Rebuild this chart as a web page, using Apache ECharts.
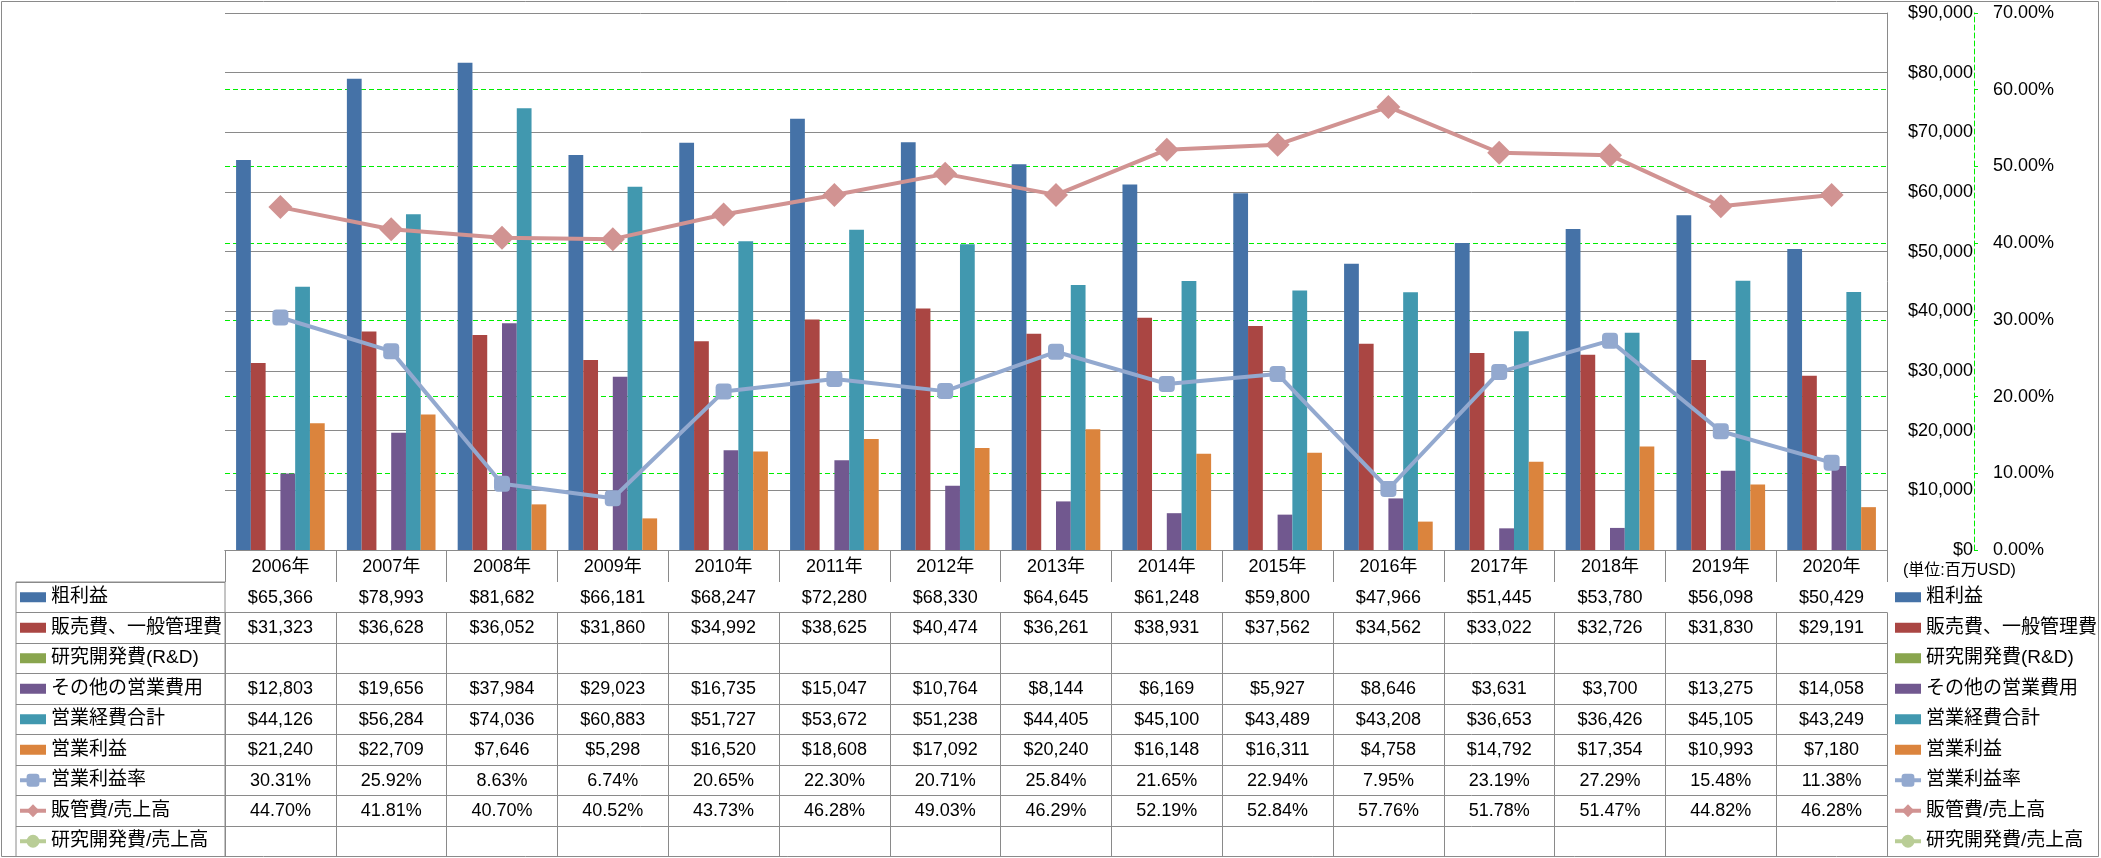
<!DOCTYPE html>
<html><head><meta charset="utf-8">
<script src="https://cdn.jsdelivr.net/npm/echarts@6/dist/echarts.min.js"></script>
<style>html,body{margin:0;padding:0;background:#fff}#c{width:2101px;height:858px}</style>
</head><body><div id="c"></div>
<script>
// ---- data ----
const years = ['2006年','2007年','2008年','2009年','2010年','2011年','2012年','2013年','2014年','2015年','2016年','2017年','2018年','2019年','2020年'];
const grossProfit = [65366,78993,81682,66181,68247,72280,68330,64645,61248,59800,47966,51445,53780,56098,50429];
const sgaExpense  = [31323,36628,36052,31860,34992,38625,40474,36261,38931,37562,34562,33022,32726,31830,29191];
const rndExpense  = [];
const otherOpex   = [12803,19656,37984,29023,16735,15047,10764,8144,6169,5927,8646,3631,3700,13275,14058];
const totalOpex   = [44126,56284,74036,60883,51727,53672,51238,44405,45100,43489,43208,36653,36426,45105,43249];
const opIncome    = [21240,22709,7646,5298,16520,18608,17092,20240,16148,16311,4758,14792,17354,10993,7180];
const opMargin    = [30.31,25.92,8.63,6.74,20.65,22.30,20.71,25.84,21.65,22.94,7.95,23.19,27.29,15.48,11.38];
const sgaRatio    = [44.70,41.81,40.70,40.52,43.73,46.28,49.03,46.29,52.19,52.84,57.76,51.78,51.47,44.82,46.28];
const rndRatio    = [];
const seriesNames = ['粗利益','販売費、一般管理費','研究開発費(R&D)','その他の営業費用','営業経費合計','営業利益','営業利益率','販管費/売上高','研究開発費/売上高'];
const usdAxis = {min:0, max:90000, interval:10000};
const pctAxis = {min:0, max:70, interval:10};
const unitLabel = '(単位:百万USD)';

// ---- styling ----
const GRAY = '#8a8a8a';
const FONT = "'Liberation Sans', 'Noto Sans CJK JP', sans-serif";
const HEAD_H = 32, ROW_H = 30.5;
const colors = ['#4572A7','#AA4643','#89A54E','#71588F','#4198AF','#DB843D','#93A9CF','#D19392','#B9CD96'];
const BAR_ICON = 'path://M0,0h26v10h-26z';

const fmtUsd = v => (v == null ? '' : '$' + v.toLocaleString('en-US'));
const fmtPct = v => (v == null ? '' : v.toFixed(2) + '%');
const rows = [
  [grossProfit, fmtUsd],[sgaExpense, fmtUsd],[rndExpense, fmtUsd],[otherOpex, fmtUsd],
  [totalOpex, fmtUsd],[opIncome, fmtUsd],[opMargin, fmtPct],[sgaRatio, fmtPct],[rndRatio, fmtPct]
];

const xAxes = [{
  type:'category', data: years, gridIndex:0, position:'bottom', offset:0,
  axisLine:{lineStyle:{color:GRAY}},
  axisTick:{show:true, length:HEAD_H, interval:0, lineStyle:{color:GRAY}},
  axisLabel:{interval:0, margin:8, fontSize:18, color:'#000', fontFamily:FONT}
}];
rows.forEach((r, k) => {
  xAxes.push({
    type:'category', data: years, gridIndex:0, position:'bottom', offset: HEAD_H + ROW_H * k,
    axisLine:{lineStyle:{color:GRAY}},
    axisTick:{show:true, length:ROW_H, interval:0, lineStyle:{color:GRAY}},
    axisLabel:{interval:0, margin:7, fontSize:18, color:'#000', fontFamily:FONT,
      formatter:(v, i) => r[1](r[0][i])}
  });
});
xAxes.push({gridIndex:1, type:'value', show:false});

const barNames = seriesNames.slice(0, 6);
const barData = [grossProfit, sgaExpense, rndExpense, otherOpex, totalOpex, opIncome];
const series = barNames.map((n, i) => ({
  name:n, type:'bar', xAxisIndex:0, yAxisIndex:0, data: barData[i],
  barGap:'0%', barCategoryGap:'20%', itemStyle:{color: colors[i]}
}));
const lineData = [opMargin, sgaRatio, rndRatio];
const lineSymbols = [['roundRect',16],['diamond',24],['circle',16]];
seriesNames.slice(6).forEach((n, j) => {
  series.push({
    name:n, type:'line', xAxisIndex:0, yAxisIndex:1, data: lineData[j],
    symbol: lineSymbols[j][0], symbolSize: lineSymbols[j][1],
    lineStyle:{width:4, color: colors[6 + j]}, itemStyle:{color: colors[6 + j]}, z:5
  });
});

const legendData = seriesNames.map((n, i) => (i < 6 ? {name:n, icon:BAR_ICON} : {name:n}));
const legendBase = {
  orient:'vertical', top:582, padding:0, itemGap:0, itemWidth:26, itemHeight:16,
  selectedMode:false, data: legendData, symbolKeepAspect:true,
  lineStyle:{width:4},
  textStyle:{fontSize:19, lineHeight:ROW_H, color:'#000', fontFamily:FONT}
};

const option = {
  animation:false,
  backgroundColor:'#fff',
  textStyle:{fontFamily:FONT},
  title:{text: unitLabel, left:1903, top:562, padding:0,
    textStyle:{fontSize:16, fontWeight:'normal', color:'#000', fontFamily:FONT, lineHeight:18}},
  legend:[Object.assign({left:18}, legendBase), Object.assign({left:1893}, legendBase)],
  grid:[
    {left:225, right:214, top:13, bottom:308},
    {left:16, top:582, width:209, height:274.5, show:true, borderColor:GRAY, borderWidth:1, backgroundColor:'transparent'}
  ],
  xAxis: xAxes,
  yAxis:[
    {type:'value', gridIndex:0, position:'right', offset:0, min:usdAxis.min, max:usdAxis.max, interval:usdAxis.interval,
     axisLine:{show:true, lineStyle:{color:GRAY}}, axisTick:{show:false},
     axisLabel:{align:'right', margin:86, fontSize:18, color:'#000', fontFamily:FONT,
       formatter: v => '$' + v.toLocaleString('en-US')},
     splitLine:{show:true, lineStyle:{color:GRAY, width:1}}},
    {type:'value', gridIndex:0, position:'right', offset:87, min:pctAxis.min, max:pctAxis.max, interval:pctAxis.interval,
     axisLine:{show:true, lineStyle:{color:'#00ee00', type:[5,3]}},
     axisTick:{show:true, length:4, lineStyle:{color:'#00ee00'}},
     axisLabel:{margin:19, fontSize:18, color:'#000', fontFamily:FONT, formatter: v => v.toFixed(2) + '%'},
     splitLine:{show:true, showMinLine:false, showMaxLine:false, lineStyle:{color:'#00ee00', type:[5,3], width:1}}},
    {type:'category', gridIndex:1, inverse:true, data: seriesNames,
     axisLine:{show:false}, axisTick:{show:false}, axisLabel:{show:false, interval:0},
     splitLine:{show:true, interval:0, lineStyle:{color:GRAY}}}
  ],
  graphic:[{type:'rect', silent:true, z:100,
    shape:{x:1.5, y:1.5, width:2097, height:855},
    style:{fill:'none', stroke:'#8a8a8a', lineWidth:1}}],
  series: series
};
const chart = echarts.init(document.getElementById('c'), null, {renderer:'canvas'});
chart.setOption(option);
</script>
</body></html>
